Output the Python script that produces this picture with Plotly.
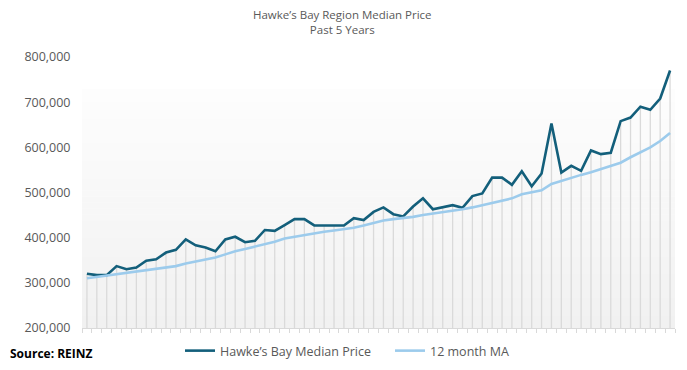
import plotly.graph_objects as go

# ---- data ----
months = list(range(60))
median_price = [320000, 317000, 317000, 337000, 330000, 334000, 349000, 352000, 367000, 373000,
                396000, 383000, 378000, 370000, 396000, 402000, 390000, 393000, 417000, 415000,
                428000, 441000, 441000, 427000, 427000, 427000, 427000, 443000, 439000, 457000,
                467000, 452000, 447000, 469000, 487000, 463000, 467000, 472000, 466000, 492000,
                498000, 533000, 533000, 517000, 547000, 514000, 542000, 653000, 544000, 559000,
                548000, 593000, 585000, 588000, 658000, 666000, 690000, 683000, 708000, 770000]
ma_12 = [310000, 313000, 315000, 319000, 322000, 325000, 328000, 331000, 334000, 337000,
         343000, 347000, 351000, 356000, 363000, 370000, 375000, 380000, 386000, 391000,
         398000, 402000, 405000, 409000, 413000, 416000, 419000, 422000, 427000, 433000,
         438000, 441000, 443000, 446000, 450000, 453000, 457000, 460000, 463000, 467000,
         472000, 477000, 482000, 487000, 496000, 500000, 505000, 519000, 526000, 532000,
         539000, 545000, 552000, 558000, 566000, 578000, 589000, 600000, 614000, 632000]
y_ticks = [200000, 300000, 400000, 500000, 600000, 700000, 800000]
y_min, y_max = 200000, 800000

DARK = "#135f7b"
LIGHT = "#9ccbec"
GREY_TXT = "#595959"
FONT = "Open Sans"

# page offset (browser body margin) compensation
L, R, T, B = 74, 20, 49, 50
W, H = 687, 370
PW = W - L - R
PH = H - T - B


def px_x(x):
    return (x - L) / PW


def px_y(y):
    return (H - B - y) / PH


fig = go.Figure()

# drop lines from the median series down to the axis
dx, dy = [], []
for m, v in zip(months, median_price):
    dx += [m, m, None]
    dy += [y_min, v, None]
fig.add_trace(go.Scatter(x=dx, y=dy, mode="lines", line=dict(color="#dadada", width=1.3),
                         hoverinfo="skip", showlegend=False))

fig.add_trace(go.Scatter(x=months, y=median_price, mode="lines", name="Hawke\u2019s Bay Median Price",
                         line=dict(color=DARK, width=2.6)))
fig.add_trace(go.Scatter(x=months, y=ma_12, mode="lines", name="12 month MA",
                         line=dict(color=LIGHT, width=2.6)))

# soft vertical gradient background of the plot area
shapes = []
n = 40
top = 0.88
c0, c1 = 241, 253
for k in range(n):
    f0, f1 = k / n * top, (k + 1) / n * top
    c = int(round(c0 + (c1 - c0) * k / (n - 1)))
    shapes.append(dict(type="rect", xref="paper", yref="paper", x0=0, x1=1, y0=f0, y1=f1 + 0.002,
                       fillcolor=f"rgb({c},{c},{c})", line=dict(width=0), layer="below"))

fig.update_layout(
    width=W, height=H,
    margin=dict(l=L, r=R, t=T, b=B, autoexpand=False),
    paper_bgcolor="white", plot_bgcolor="white",
    font=dict(family=FONT, color=GREY_TXT, size=12),
    shapes=shapes,
    showlegend=True,
    legend=dict(orientation="h", x=px_x(172), xanchor="left", y=px_y(328), yanchor="top",
                font=dict(size=12.5, color=GREY_TXT), bgcolor="rgba(0,0,0,0)",
                itemwidth=30, tracegroupgap=0, entrywidth=165),
    annotations=[
        dict(text="Hawke\u2019s Bay Region Median Price<br>Past 5 Years", xref="paper", yref="paper",
             x=px_x(334), y=px_y(13.5), xanchor="center", yanchor="middle", showarrow=False,
             font=dict(size=11.5, color=GREY_TXT, family=FONT)),
        dict(text="<b>Source: REINZ</b>", xref="paper", yref="paper", x=px_x(0), y=px_y(345),
             xanchor="left", yanchor="middle", showarrow=False,
             font=dict(size=12, color="black", family=FONT)),
    ],
)

fig.update_xaxes(range=[-0.5, 59.5], showgrid=False, zeroline=False,
                 showline=True, linecolor="#d9d9d9", linewidth=1.3,
                 tickmode="array", tickvals=[m - 0.5 for m in months] + [59.5],
                 ticktext=[""] * 61, ticks="outside", ticklen=4, tickcolor="#d9d9d9", tickwidth=1.3)
fig.update_yaxes(range=[y_min, y_max], tickvals=y_ticks, tickformat=",", showgrid=False,
                 zeroline=False, showline=False, ticks="outside", ticklen=8, tickcolor="rgba(0,0,0,0)",
                 tickfont=dict(size=12.5, color=GREY_TXT, family=FONT))

fig.write_html("out.html")
